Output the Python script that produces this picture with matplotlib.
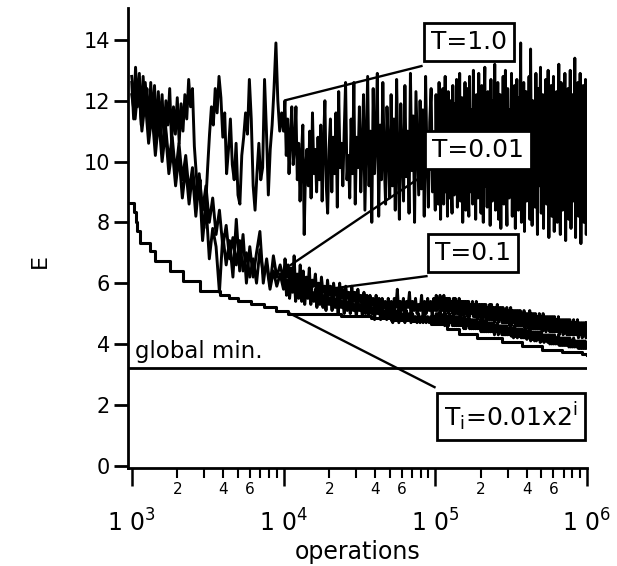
# Energy vs. number of operations for annealing runs at fixed T and with a T schedule
import numpy as np
import matplotlib.pyplot as plt
from matplotlib.ticker import FixedLocator, FixedFormatter

plt.rcParams['font.family'] = 'DejaVu Sans'
plt.rcParams['mathtext.fontset'] = 'dejavusans'

# ---- values (E, one list per decade of operations) ----
t10_dec3 = [12.6, 11.4, 13.1, 11.8, 12.9, 11.2, 12.8, 11.6, 12.4, 10.9,
            12.6, 11.3, 12.5, 10.8, 12.3, 11.0, 12.2, 10.7, 12.0, 11.2,
            12.4, 10.6, 11.8, 10.9, 12.1, 10.6, 11.9, 11.0, 12.2,
            11.4, 12.7, 11.8, 12.4, 10.5,
            9.6, 8.8, 9.4, 8.2, 7.8, 8.6,
            9.8, 10.9, 11.8, 11.2, 12.4, 11.6, 12.8, 12.1,
            10.8, 11.6, 9.6, 10.4, 11.4, 9.9, 9.4, 10.6, 8.9, 8.6,
            10.2, 10.8, 11.6, 10.9, 12.7, 11.4, 9.2,
            8.4, 9.6, 10.6, 9.4, 9.8, 12.7,
            11.0, 8.9, 10.4, 11.2, 12.4, 13.9, 12.0, 11.0, 11.6]
t10_dec4 = [11.0, 12.0, 10.2, 11.4, 9.6, 10.8, 11.8, 9.9, 10.5, 11.8,
            9.4, 10.6, 8.7, 10.2, 11.2, 7.6, 9.8, 10.4, 9.2, 11.0,
            8.8, 11.6, 9.6, 10.4, 9.0, 10.8, 9.4, 11.2, 8.7, 10.6,
            12.0, 9.2, 8.3, 10.4, 11.4, 9.0, 10.8, 9.6, 11.6, 8.5,
            12.3, 9.8, 10.6, 9.2, 11.0, 12.6, 9.4, 10.2, 8.8, 11.4,
            9.6, 12.6, 8.6, 10.8, 9.8, 11.8, 9.0, 10.4, 12.2, 8.4,
            10.6, 12.8, 9.2, 11.0, 8.0, 12.4, 9.6, 10.8, 12.9, 8.2,
            11.2, 9.4, 12.6, 10.0, 8.6, 11.8, 10.4, 8.8, 12.2, 9.2,
            11.4, 8.4, 12.7, 9.9, 8.1, 11.9, 10.2, 8.7, 12.5, 9.5,
            11.0, 8.3, 12.9, 9.7, 11.5, 8.0, 12.3, 10.6, 8.9, 12.0,
            9.1, 11.7, 8.2, 12.8, 10.1, 8.5, 11.3, 12.4, 9.0, 10.8]
t10_dec5 = [8.4, 12.2, 9.8, 11.6, 8.6, 12.6, 10.0, 8.1, 11.8, 9.2,
            12.4, 8.6, 10.9, 12.8, 9.0, 11.6, 8.2, 12.3, 10.2, 8.8,
            12.0, 9.4, 8.3, 12.5, 10.6, 8.9, 11.9, 9.3, 12.7, 8.5,
            11.2, 9.8, 12.9, 8.7, 10.4, 12.1, 8.0, 11.5, 9.6, 12.6,
            8.4, 11.0, 12.4, 9.1, 8.2, 12.8, 10.3, 9.0, 11.7, 8.6,
            13.0, 9.5, 11.3, 8.1, 12.2, 10.7, 8.8, 12.9, 9.7, 11.1,
            8.3, 12.5, 9.9, 8.0, 11.9, 13.1, 9.2, 10.5, 8.5, 12.3,
            9.4, 11.6, 7.9, 12.7, 10.1, 8.7, 12.0, 9.3, 13.2, 8.4,
            11.4, 9.8, 12.6, 8.1, 10.9, 12.2, 7.8, 11.8, 9.5, 12.8,
            8.6, 10.6, 13.0, 9.1, 7.9, 12.4, 10.3, 8.8, 11.7, 9.6,
            12.9, 8.2, 11.2, 9.9, 12.5, 7.8, 10.8, 12.7, 9.0, 8.4,
            12.1, 10.4, 13.9, 8.0, 11.5, 9.3, 12.6, 7.7, 10.9, 12.3,
            8.7, 11.0, 9.6, 12.8, 8.1, 13.7, 10.2, 7.9, 12.0, 9.4,
            11.6, 8.5, 12.9, 10.0, 7.6, 12.4, 9.2, 11.3, 13.1, 8.3,
            10.7, 12.2, 7.8, 11.8, 9.7, 12.7, 8.6, 10.4, 13.0, 7.5,
            11.4, 9.0, 12.5, 8.2, 10.9, 12.8, 7.7, 11.6, 9.5, 12.3,
            8.0, 10.6, 13.2, 9.1, 7.6, 12.6, 10.1, 8.4, 11.9, 9.8,
            12.9, 7.4, 11.2, 10.3, 12.4, 8.1, 9.6, 13.0, 7.8, 11.5,
            12.2, 8.7, 10.0, 13.4, 7.5, 11.8, 9.3, 12.6, 8.2, 10.8,
            12.9, 7.3, 11.1, 9.7, 12.5, 8.0, 10.4, 12.7, 7.6, 9.8]

t001_dec3 = [12.2, 11.4, 12.6, 11.0, 12.0, 10.6, 11.6, 10.2, 11.4, 10.0,
             11.0, 9.6, 10.4, 9.2, 10.2, 8.8, 9.8, 8.6, 9.6, 8.2,
             9.4, 7.4, 8.6, 6.8, 7.8, 7.2, 5.7, 7.6, 6.6, 7.4,
             6.2, 8.1, 6.4, 7.6, 6.0, 7.2, 6.2, 7.0, 7.7, 6.0,
             6.8, 5.9, 6.9, 6.2, 6.6]
t001_dec4 = [6.1, 6.8, 6.2, 6.6, 5.8, 6.5, 6.0, 6.9, 5.7, 6.3,
             5.9, 6.6, 5.8, 6.4, 5.6, 6.2, 5.8, 6.5, 5.5, 6.1,
             5.9, 6.3, 5.6, 6.0, 5.5, 6.2, 5.7, 5.9, 5.4, 6.1,
             5.6, 5.9, 5.4, 6.0, 5.6, 5.8, 5.3, 6.0, 5.5, 5.8,
             5.3, 5.9, 5.5, 5.7, 5.2, 5.9, 5.4, 5.7, 5.2, 5.8,
             5.4, 5.6, 5.1, 5.7, 5.3, 5.6, 5.1, 5.6, 5.3, 5.5,
             5.0, 5.6, 5.2, 5.5, 5.0, 5.5, 5.2, 5.4, 4.9, 5.5,
             5.1, 5.4, 5.0, 5.5, 5.2, 5.8, 5.0, 5.4, 5.1, 5.5,
             5.0, 5.4, 5.2, 5.7, 4.9, 5.4, 5.1, 5.5, 5.0, 5.3,
             5.1, 5.6, 4.9, 5.4, 5.0, 5.5, 5.1, 5.4, 4.9, 5.5]
t001_dec5 = [5.1, 5.6, 5.1, 5.5, 5.2, 5.6, 5.1, 5.5, 5.1, 5.6,
             5.0, 5.5, 5.1, 5.5, 5.0, 5.5, 5.1, 5.4, 5.0, 5.5,
             5.0, 5.5, 5.0, 5.4, 5.0, 5.5, 4.9, 5.4, 5.0, 5.4,
             4.9, 5.4, 5.0, 5.4, 4.9, 5.4, 4.9, 5.3, 5.0, 5.4,
             4.9, 5.3, 4.9, 5.4, 4.8, 5.3, 4.9, 5.3, 4.8, 5.3,
             4.8, 5.3, 4.9, 5.3, 4.8, 5.2, 4.8, 5.3, 4.8, 5.3,
             4.8, 5.2, 4.7, 5.2, 4.8, 5.3, 4.7, 5.2, 4.8, 5.2,
             4.7, 5.2, 4.7, 5.1, 4.7, 5.2, 4.7, 5.1, 4.6, 5.2,
             4.6, 5.1, 4.7, 5.1, 4.6, 5.1, 4.6, 5.1, 4.6, 5.1,
             4.6, 5.0, 4.6, 5.1, 4.5, 5.0, 4.6, 5.0, 4.5, 5.1,
             4.5, 5.0, 4.5, 5.0, 4.5, 5.0, 4.5, 4.9, 4.5, 5.0,
             4.5, 4.9, 4.4, 5.0, 4.5, 4.9, 4.4, 4.9, 4.5, 4.9,
             4.4, 4.9, 4.4, 4.9, 4.4, 4.9, 4.4, 4.8, 4.4, 4.9,
             4.3, 4.8, 4.4, 4.8, 4.3, 4.8, 4.4, 4.8, 4.3, 4.8,
             4.3, 4.8, 4.3, 4.7, 4.3, 4.8, 4.3, 4.7, 4.3, 4.8,
             4.2, 4.7, 4.3, 4.7, 4.2, 4.7, 4.3, 4.7, 4.2, 4.7]

t01_dec3 = [12.8, 11.8, 12.4, 11.2, 12.6, 11.0, 12.0, 10.8, 11.8, 10.4,
            11.2, 10.0, 10.8, 9.6, 10.6, 9.4, 10.2, 9.0, 9.8, 8.8,
            9.6, 8.4, 9.2, 8.0, 8.8, 7.6, 8.4, 7.2, 7.9, 6.8,
            7.5, 6.6, 7.4, 6.4, 7.0, 6.2, 6.8, 6.0, 7.1, 6.3,
            6.6, 5.8, 6.4, 5.9, 6.3]
t01_dec4 = [5.8, 6.3, 5.6, 6.1, 5.5, 6.0, 5.7, 6.2, 5.4, 5.9,
            5.5, 6.1, 5.4, 5.8, 5.3, 5.9, 5.5, 5.8, 5.3, 5.7,
            5.4, 5.8, 5.2, 5.6, 5.3, 5.8, 5.2, 5.6, 5.1, 5.7,
            5.3, 5.5, 5.1, 5.6, 5.2, 5.5, 5.0, 5.6, 5.2, 5.4,
            5.0, 5.5, 5.1, 5.4, 5.0, 5.5, 5.1, 5.3, 4.9, 5.4,
            5.1, 5.3, 4.9, 5.4, 5.0, 5.3, 4.9, 5.3, 5.0, 5.2,
            4.8, 5.3, 5.0, 5.2, 4.8, 5.2, 4.9, 5.1, 4.8, 5.2,
            4.9, 5.1, 4.7, 5.2, 4.8, 5.1, 4.7, 5.1, 4.8, 5.0,
            4.7, 5.1, 4.8, 5.0, 4.7, 5.0, 4.8, 4.9, 4.7, 5.0,
            4.7, 4.9, 4.7, 5.0, 4.7, 4.9, 4.7, 4.9, 4.7, 4.9]
t01_dec5 = [4.7, 5.0, 4.7, 5.0, 4.7, 5.1, 4.7, 4.9, 4.7, 5.0,
            4.6, 5.0, 4.7, 4.9, 4.6, 5.0, 4.7, 4.9, 4.6, 5.0,
            4.6, 4.9, 4.6, 4.9, 4.6, 4.9, 4.6, 4.9, 4.6, 4.8,
            4.5, 4.9, 4.5, 4.8, 4.6, 4.9, 4.5, 4.8, 4.5, 4.8,
            4.5, 4.8, 4.5, 4.8, 4.5, 4.7, 4.5, 4.8, 4.4, 4.8,
            4.4, 4.7, 4.4, 4.8, 4.4, 4.7, 4.4, 4.7, 4.4, 4.7,
            4.4, 4.7, 4.3, 4.6, 4.4, 4.7, 4.3, 4.6, 4.4, 4.6,
            4.3, 4.6, 4.3, 4.6, 4.3, 4.6, 4.3, 4.5, 4.3, 4.6,
            4.25, 4.5, 4.2, 4.6, 4.25, 4.5, 4.2, 4.5, 4.25, 4.5,
            4.2, 4.5, 4.2, 4.4, 4.2, 4.5, 4.15, 4.4, 4.2, 4.5,
            4.1, 4.4, 4.15, 4.4, 4.1, 4.4, 4.1, 4.4, 4.15, 4.4,
            4.05, 4.4, 4.1, 4.3, 4.05, 4.3, 4.1, 4.3, 4.05, 4.3,
            4.0, 4.3, 4.0, 4.3, 4.0, 4.3, 4.0, 4.2, 4.0, 4.3,
            3.95, 4.2, 3.95, 4.2, 3.95, 4.2, 3.95, 4.2, 3.95, 4.2,
            3.9, 4.2, 3.9, 4.1, 3.9, 4.2, 3.9, 4.1, 3.9, 4.1,
            3.85, 4.1, 3.85, 4.1, 3.85, 4.1, 3.85, 4.1, 3.85, 4.05]

# schedule T_i = 0.01 x 2^i : operations where a new level starts, and E
sched_ops = [950, 1030, 1060, 1090, 1135, 1322, 1427, 1793, 2187, 2834,
             3844, 4400, 4983, 6073, 7404, 8892, 10679, 15170, 23930, 37840,
             51350, 69700, 94440, 118800, 142700, 187600, 274600, 372700,
             505800, 686000, 930000, 1000000]
sched_E = [8.65, 8.35, 8.0, 7.7, 7.33, 7.05, 6.72, 6.39, 6.06, 5.73,
           5.62, 5.5, 5.42, 5.3, 5.2, 5.1, 5.0, 4.97, 4.92, 4.85,
           4.8, 4.74, 4.66, 4.5, 4.34, 4.2, 4.07, 3.93,
           3.8, 3.72, 3.66, 3.65]

global_min = 3.22

x_major = [1e3, 1e4, 1e5, 1e6]
x_major_labels = [r'$\mathregular{1\ 0^{%d}}$' % k for k in (3, 4, 5, 6)]


def decade_ops(d3, d4, d5):
    # sample points of one run, evenly spaced in log within each decade
    return np.concatenate([
        np.logspace(3, 4, len(d3), endpoint=False),
        np.logspace(4, 5, len(d4), endpoint=False),
        np.logspace(5, 6, len(d5)),
    ])


fig = plt.figure(figsize=(6.17, 5.66), dpi=100)
ax = fig.add_axes([0.2075, 0.1731, 0.7439, 0.8128])

runs = [(t10_dec3, t10_dec4, t10_dec5),
        (t001_dec3, t001_dec4, t001_dec5),
        (t01_dec3, t01_dec4, t01_dec5)]
for d3, d4, d5 in runs:
    ax.plot(decade_ops(d3, d4, d5), d3 + d4 + d5, color='black', lw=2.1)

ax.plot(sched_ops, sched_E, color='black', lw=2.2, drawstyle='steps-post')
ax.axhline(global_min, color='black', lw=2)
ax.text(1052, 3.54, 'global min.', fontsize=16.5, va='baseline', ha='left')

# labels in boxes with leader lines
box = dict(boxstyle='square,pad=0.28', fc='white', ec='black', lw=2)
labels = [
    ('T=1.0', (167500, 13.93), (81100, 13.14), (10380, 12.02)),
    ('T=0.01', (191800, 10.39), (78700, 9.46), (11170, 6.6)),
    ('T=0.1', (176600, 6.99), (87500, 6.23), (22180, 5.84)),
    ('T$_\\mathregular{i}$=0.01x2$^\\mathregular{i}$', (315400, 1.61),
     (98900, 2.58), (10850, 5.02)),
]
for txt, pos, start, end in labels:
    ax.plot([start[0], end[0]], [start[1], end[1]], color='black', lw=1.7,
            zorder=4)
    ax.text(pos[0], pos[1], txt, fontsize=18, ha='center', va='center',
            bbox=box, zorder=5)

ax.set_xscale('log')
ax.set_xlim(945, 1e6)
ax.set_ylim(-0.08, 15.05)

ax.xaxis.set_major_locator(FixedLocator(x_major))
ax.xaxis.set_major_formatter(FixedFormatter(x_major_labels))
minor_ticks = [m * 10 ** k for k in (3, 4, 5) for m in range(2, 10)]
minor_labels = [str(int(t / 10 ** int(np.log10(t)))) if
                int(t / 10 ** int(np.log10(t))) in (2, 4, 6) else ''
                for t in minor_ticks]
ax.xaxis.set_minor_locator(FixedLocator(minor_ticks))
ax.xaxis.set_minor_formatter(FixedFormatter(minor_labels))

ax.set_yticks(range(0, 15, 2))

ax.tick_params(axis='x', which='major', direction='out', length=13,
               width=1.8, pad=17, labelsize=17)
ax.tick_params(axis='x', which='minor', direction='out', length=7,
               width=1.5, pad=3, labelsize=11)
ax.tick_params(axis='y', direction='out', length=10, width=2, pad=3,
               labelsize=15)

for side in ('top', 'right'):
    ax.spines[side].set_visible(False)
for side in ('left', 'bottom'):
    ax.spines[side].set_linewidth(2)

ax.set_ylabel('E', fontsize=16)
ax.yaxis.set_label_coords(-0.17, 0.45)
ax.set_xlabel('operations', fontsize=17, labelpad=2)

fig.savefig('out.png', dpi=100)
